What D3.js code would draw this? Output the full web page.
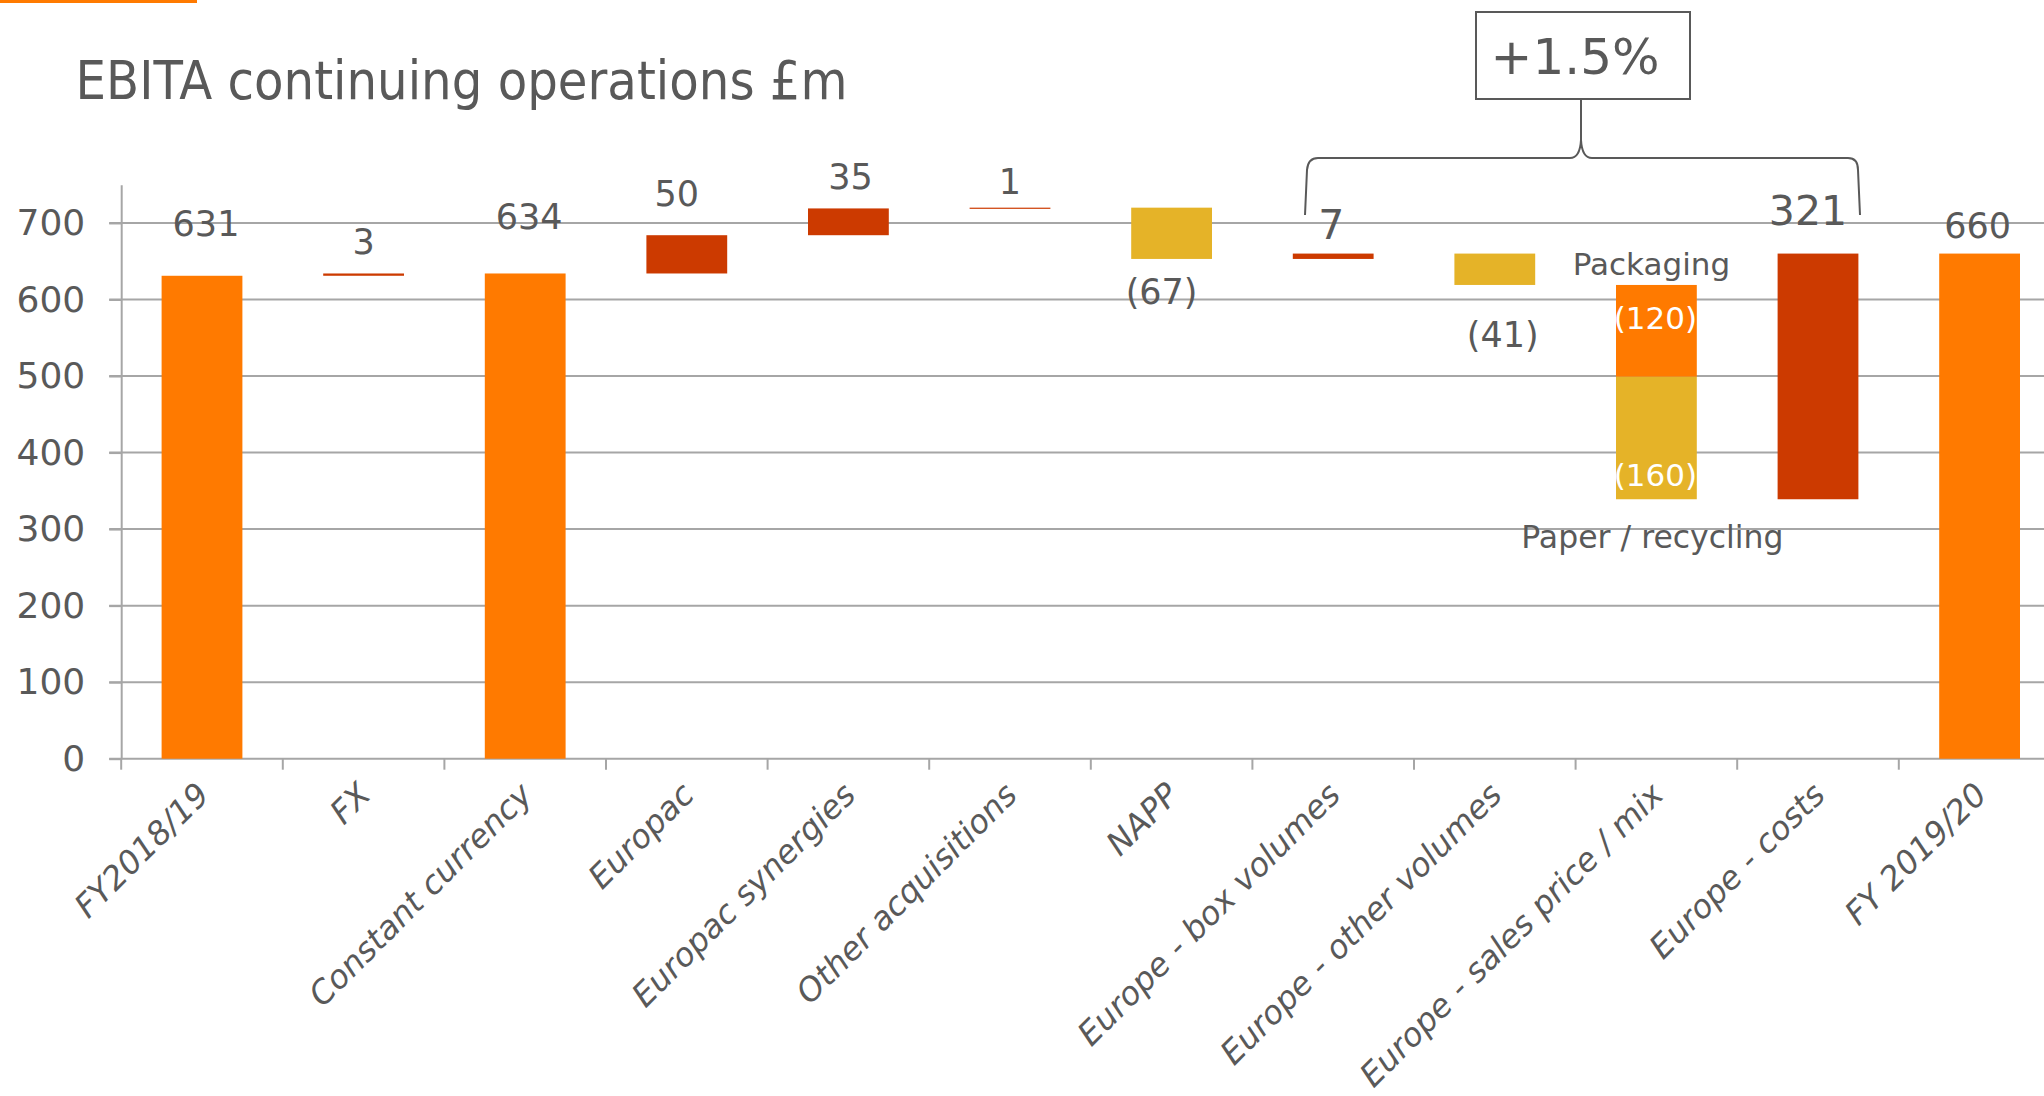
<!DOCTYPE html>
<html>
<head>
<meta charset="utf-8">
<script src="https://cdn.jsdelivr.net/npm/d3@7"></script>
<style>
  html, body { margin: 0; padding: 0; background: #fff; }
  svg { display: block; font-family: "DejaVu Sans", Verdana, sans-serif; }
</style>
</head>
<body>
<svg id="chart" width="2044" height="1096"></svg>
<script>
// ---------------- data ----------------
const categories = ["FY2018/19", "FX", "Constant currency", "Europac", "Europac synergies",
  "Other acquisitions", "NAPP", "Europe - box volumes", "Europe - other volumes",
  "Europe - sales price / mix", "Europe - costs", "FY 2019/20"];
const kinds = ["total", "delta", "total", "delta", "delta", "delta", "delta", "delta", "delta", "split", "delta", "total"];
const values = [631, 3, 634, 50, 35, 1, -67, 7, -41, -280, 321, 660];
const valueLabels = ["631", "3", "634", "50", "35", "1", "(67)", "7", "(41)", "", "321", "660"];
const splitNames = ["Packaging", "Paper / recycling"];
const splitValues = [-120, -160];
const splitLabels = ["(120)", "(160)"];
const yTicks = [0, 100, 200, 300, 400, 500, 600, 700];
const bracketText = "+1.5%";
const titleText = "EBITA continuing operations £m";

// ---------------- layout ----------------
const W = 2044, H = 1096;
const plotLeft = 121.2, step = 161.6, baseY = 758.7, topY = 184.7;
const labelGap = [52, 31, 56, 41, 31, 26, 33, 29, 50, 0, 43, 28];
const labelDx = [4, 0, 4, -10, 2, 0, -10, -2, 8, 0, -10, -2];
const labelBig = [false, false, false, false, false, false, false, true, false, false, true, false];
const C = { total: "#FF7A00", up: "#CC3A00", down: "#E5B328", text: "#595959", grid: "#A6A6A6" };

const svg = d3.select("#chart");

const x = d3.scaleBand().domain(categories)
  .range([plotLeft, plotLeft + step * categories.length])
  .paddingInner(0.5).paddingOuter(0.25);
const y = d3.scaleLinear().domain([0, 750]).range([baseY, topY]);

// top accent line
svg.append("rect").attr("x", 0).attr("y", 0).attr("width", 197).attr("height", 3).attr("fill", C.total);

// title
svg.append("text").attr("x", 75.6).attr("y", 99)
  .attr("font-size", 54).attr("fill", C.text)
  .attr("textLength", 772).attr("lengthAdjust", "spacingAndGlyphs")
  .text(titleText);

// gridlines
svg.append("g").selectAll("line").data(yTicks).join("line")
  .attr("x1", plotLeft - 12).attr("x2", W)
  .attr("y1", d => y(d)).attr("y2", d => y(d))
  .attr("stroke", C.grid).attr("stroke-width", 2);

// y axis
const yAxis = svg.append("g").attr("transform", `translate(${plotLeft},0)`)
  .call(d3.axisLeft(y).tickValues(yTicks).tickSizeInner(12).tickSizeOuter(0).tickPadding(24));
yAxis.select(".domain").attr("stroke", C.grid).attr("stroke-width", 2);
yAxis.selectAll(".tick line").attr("stroke", C.grid).attr("stroke-width", 2);
yAxis.selectAll(".tick text").attr("font-size", 36).attr("fill", C.text)
  .attr("font-family", "DejaVu Sans, Verdana, sans-serif");

// x-axis boundary ticks
const bounds = d3.range(categories.length + 1).map(i => plotLeft + i * x.step());
svg.append("g").selectAll("line").data(bounds).join("line")
  .attr("x1", d => d).attr("x2", d => d)
  .attr("y1", baseY).attr("y2", baseY + 11)
  .attr("stroke", C.grid).attr("stroke-width", 2);

// x labels
svg.append("g").selectAll("text").data(categories).join("text")
  .attr("transform", d => `translate(${x(d) + x.bandwidth() / 2 + 9},${baseY + 38}) rotate(-45)`)
  .attr("text-anchor", "end")
  .attr("font-size", 32.5).attr("font-style", "italic").attr("fill", C.text)
  .text(d => d);

// compute waterfall
let running = 0;
const bars = [];
const labels = [];
categories.forEach((c, i) => {
  const k = kinds[i], v = values[i];
  if (k === "total") {
    bars.push({ c, y0: 0, y1: v, color: C.total });
    running = v;
    labels.push({ c, i, anchorVal: v, side: "top" });
  } else if (k === "delta") {
    const y0 = running, y1 = running + v;
    bars.push({ c, y0, y1, color: v >= 0 ? C.up : C.down });
    labels.push({ c, i, anchorVal: y1, side: v >= 0 ? "top" : "bottom" });
    running = y1;
  } else {
    splitValues.forEach((sv, j) => {
      const y0 = running, y1 = running + sv;
      bars.push({ c, y0, y1, color: j === 0 ? C.total : C.down, split: j });
      running = y1;
    });
  }
});

svg.append("g").selectAll("rect").data(bars).join("rect")
  .attr("x", d => x(d.c)).attr("width", x.bandwidth())
  .attr("y", d => y(Math.max(d.y0, d.y1)))
  .attr("height", d => Math.max(1.2, Math.abs(y(d.y0) - y(d.y1))))
  .attr("fill", d => d.color);

// value labels
svg.append("g").selectAll("text").data(labels).join("text")
  .attr("x", d => x(d.c) + x.bandwidth() / 2 + labelDx[d.i])
  .attr("y", d => d.side === "top" ? y(d.anchorVal) - labelGap[d.i] : y(d.anchorVal) + labelGap[d.i])
  .attr("dominant-baseline", "central").attr("text-anchor", "middle")
  .attr("font-size", d => labelBig[d.i] ? 41 : 35).attr("fill", C.text)
  .text(d => valueLabels[d.i]);

// split labels (white, inside)
const splitCat = categories[kinds.indexOf("split")];
const sx = x(splitCat) + x.bandwidth() / 2;
const splitBars = bars.filter(b => b.split !== undefined);
svg.append("g").selectAll("text").data(splitBars).join("text")
  .attr("x", sx - 1)
  .attr("y", (d, j) => j === 0 ? y(d.y0) + 33 : y(d.y1) - 24)
  .attr("dominant-baseline", "central").attr("text-anchor", "middle")
  .attr("font-size", 31).attr("fill", "#fff")
  .text((d, j) => splitLabels[j]);

// split names
svg.append("text").attr("x", sx - 5).attr("y", y(splitBars[0].y0) - 21)
  .attr("dominant-baseline", "central").attr("text-anchor", "middle")
  .attr("font-size", 31).attr("fill", C.text).text(splitNames[0]);
svg.append("text").attr("x", sx - 4).attr("y", y(splitBars[1].y1) + 38)
  .attr("dominant-baseline", "central").attr("text-anchor", "middle")
  .attr("font-size", 31.5).attr("fill", C.text).text(splitNames[1]);

// bracket + box
const bx = 1581;
svg.append("path")
  .attr("d", `M1305,215 L1307,170 Q1308,158 1318,158 L1570,158 Q1580,158 ${bx},140 L${bx},99
              M${bx},140 Q1582,158 1592,158 L1848,158 Q1858,158 1858,170 L1860,215`)
  .attr("fill", "none").attr("stroke", C.text).attr("stroke-width", 2);
svg.append("rect").attr("x", 1476).attr("y", 12).attr("width", 214).attr("height", 87)
  .attr("fill", "#fff").attr("stroke", C.text).attr("stroke-width", 2);
svg.append("text").attr("x", 1575).attr("y", 57)
  .attr("dominant-baseline", "central").attr("text-anchor", "middle")
  .attr("font-size", 50).attr("fill", C.text).text(bracketText);
</script>
</body>
</html>
